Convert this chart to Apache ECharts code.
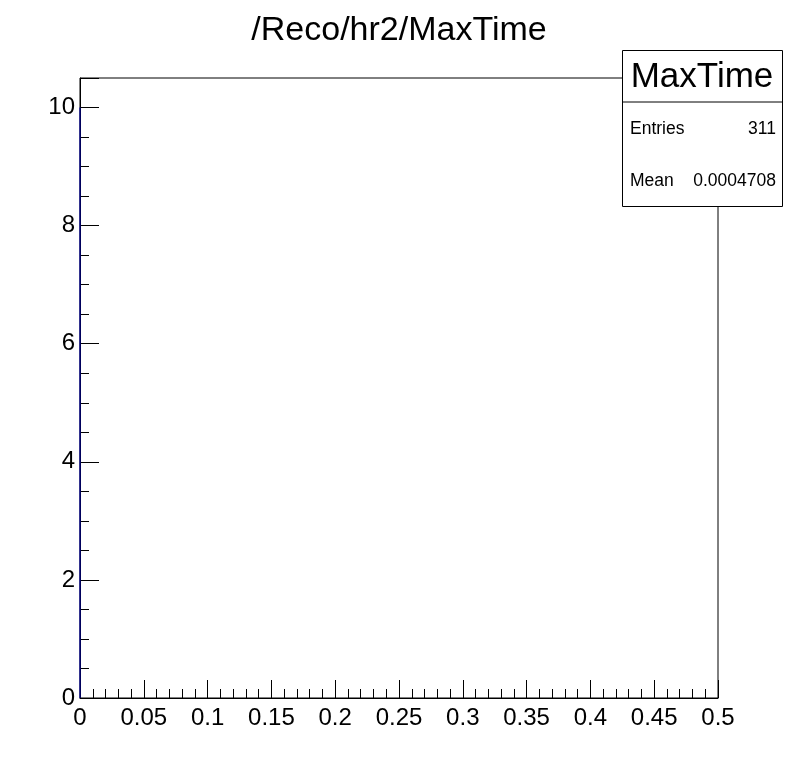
<!DOCTYPE html>
<html>
<head>
<meta charset="utf-8">
<script src="https://cdn.jsdelivr.net/npm/echarts@6/dist/echarts.min.js"></script>
<style>html,body{margin:0;padding:0;background:#fff}#c{width:798px;height:776px}</style>
</head>
<body>
<div id="c"></div>
<script>
const titleText = "/Reco/hr2/MaxTime";
const histName = "MaxTime";
const statLabels = ["Entries", "Mean"];
const statValues = ["311", "0.0004708"];
// histogram outline (one very narrow bin at x = 0)
const histX = [0, 0];
const histY = [0, 10];
const xRange = [0, 0.5];
const yRange = [0, 10.5];

const FONT = "Liberation Sans, Arial, Helvetica, sans-serif";
const chart = echarts.init(document.getElementById('c'), null, {renderer: 'canvas'});
const fmt = v => {
  if (Math.abs(v - yRange[1]) < 1e-9 && v > 1) return '';
  return String(Math.round(v * 1000) / 1000);
};
chart.setOption({
  animation: false,
  backgroundColor: '#fff',
  title: {
    text: titleText, left: 'center', top: 9,
    textStyle: {fontFamily: FONT, fontSize: 34, fontWeight: 'normal', color: '#000'}
  },
  grid: {left: 80, right: 80, top: 78, bottom: 78, show: true, borderColor: '#000', borderWidth: 1, backgroundColor: 'transparent'},
  xAxis: [{
    type: 'value', min: xRange[0], max: xRange[1], interval: 0.05,
    axisLine: {show: true, onZero: false, lineStyle: {color: '#000', width: 1}},
    axisTick: {show: true, inside: true, length: 18, lineStyle: {color: '#000'}},
    minorTick: {show: true, splitNumber: 5, length: 9, lineStyle: {color: '#000'}},
    splitLine: {show: false},
    axisLabel: {fontFamily: FONT, fontSize: 24, color: '#000', margin: 8, formatter: fmt}
  }],
  yAxis: [{
    type: 'value', min: yRange[0], max: yRange[1], interval: 2,
    axisLine: {show: true, onZero: false, lineStyle: {color: '#000', width: 1}},
    axisTick: {show: true, inside: true, length: 19, lineStyle: {color: '#000'}},
    splitLine: {show: false},
    axisLabel: {fontFamily: FONT, fontSize: 24, color: '#000', margin: 5, formatter: fmt}
  }, {
    type: 'value', position: 'left', min: yRange[0], max: yRange[1], interval: 0.5,
    axisLine: {show: false},
    axisTick: {show: true, inside: true, length: 9, lineStyle: {color: '#000'}},
    splitLine: {show: false},
    axisLabel: {show: false}
  }],
  series: [{
    type: 'line', xAxisIndex: 0, yAxisIndex: 0,
    data: histX.map((x, i) => [x, histY[i]]),
    symbol: 'none', z: 10,
    lineStyle: {color: '#000099', width: 1.2},
    silent: true
  }],
  graphic: [
    {type: 'rect', left: 622, top: 50, shape: {width: 160, height: 156}, style: {fill: '#fff', stroke: '#000', lineWidth: 1}, z: 100},
    {type: 'line', shape: {x1: 622, y1: 102, x2: 782, y2: 102}, style: {stroke: '#000', lineWidth: 1}, z: 101},
    {type: 'text', x: 702, y: 77, style: {text: histName, font: '35px ' + FONT, fill: '#000', align: 'center', verticalAlign: 'middle'}, z: 101},
    {type: 'text', x: 630, y: 129, style: {text: statLabels[0], font: '17.5px ' + FONT, fill: '#000', align: 'left', verticalAlign: 'middle'}, z: 101},
    {type: 'text', x: 776, y: 129, style: {text: statValues[0], font: '17.5px ' + FONT, fill: '#000', align: 'right', verticalAlign: 'middle'}, z: 101},
    {type: 'text', x: 630, y: 181, style: {text: statLabels[1], font: '17.5px ' + FONT, fill: '#000', align: 'left', verticalAlign: 'middle'}, z: 101},
    {type: 'text', x: 776, y: 181, style: {text: statValues[1], font: '17.5px ' + FONT, fill: '#000', align: 'right', verticalAlign: 'middle'}, z: 101}
  ]
});
</script>
</body>
</html>
